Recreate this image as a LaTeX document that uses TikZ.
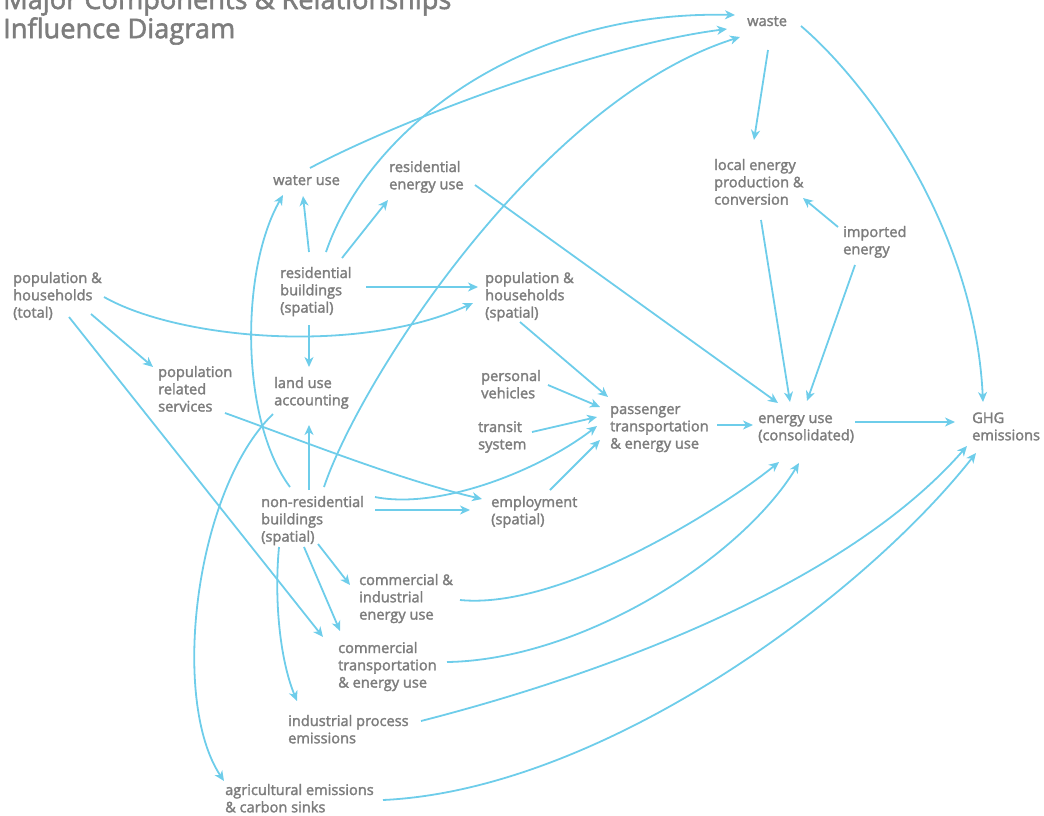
\documentclass[tikz,border=0pt]{standalone}
\usepackage{fontspec}
\setmainfont{Open Sans}[FakeBold=2.0]
\usetikzlibrary{arrows.meta,calc}
\definecolor{lbl}{RGB}{125,125,125}
\definecolor{edge}{RGB}{110,205,234}
\newcommand\mlab[1]{\begin{tabular}[t]{@{}l@{}}#1\end{tabular}}
\tikzset{
  lab/.style={anchor=base west, inner sep=0pt, text=lbl,
    font=\fontsize{14.6}{17.3}\selectfont},
  link/.style={draw=edge, line width=1.8pt,
    -{Stealth[length=10pt,width=9pt,inset=3pt]}},
}
\begin{document}
\begin{tikzpicture}[x=1pt,y=-1pt]
\useasboundingbox (0,0) rectangle (1044,815);
\clip (0,0) rectangle (1044,815);

\node[lab, font=\fontsize{27.2}{28}\selectfont] (title) at (3,9) {\mlab{Major Components \& Relationships\\Influence Diagram}};

\node[lab] (waste) at (747,26) {waste};
\node[lab] (water) at (273,185) {water use};
\node[lab] (resE) at (389,172) {\mlab{residential\\energy use}};
\node[lab] (local) at (714,170) {\mlab{local energy\\production \&\\conversion}};
\node[lab] (imp) at (843,237) {\mlab{imported\\energy}};
\node[lab] (popT) at (13,283) {\mlab{population \&\\households\\(total)}};
\node[lab] (resB) at (280,278) {\mlab{residential\\buildings\\(spatial)}};
\node[lab] (popS) at (485,283) {\mlab{population \&\\households\\(spatial)}};
\node[lab] (prs) at (158,377) {\mlab{population\\related\\services}};
\node[lab] (land) at (274,388) {\mlab{land use\\accounting}};
\node[lab] (pv) at (481,381) {\mlab{personal\\vehicles}};
\node[lab] (transit) at (478,432) {\mlab{transit\\system}};
\node[lab] (pass) at (610,414) {\mlab{passenger\\transportation\\\& energy use}};
\node[lab] (eu) at (758,423) {\mlab{energy use\\(consolidated)}};
\node[lab] (ghg) at (972,423) {\mlab{GHG\\emissions}};
\node[lab] (nonres) at (261,507) {\mlab{non-residential\\buildings\\(spatial)}};
\node[lab] (emp) at (491,507) {\mlab{employment\\(spatial)}};
\node[lab] (ci) at (359,585) {\mlab{commercial \&\\industrial\\energy use}};
\node[lab] (ct) at (338,653) {\mlab{commercial\\transportation\\\& energy use}};
\node[lab] (ip) at (288,726) {\mlab{industrial process\\emissions}};
\node[lab] (ag) at (225,795) {\mlab{agricultural emissions\\\& carbon sinks}};

% connectors
\draw[link] ($(popT.base west)+(91,14)$) .. controls (180,340) and (360,355) .. ($(popS.base west)+(-12,20)$);
\draw[link] ($(popT.base west)+(78,31)$) -- ($(prs.base west)+(-5,-10)$);
\draw[link] ($(popT.base west)+(56,34)$) -- ($(ct.base west)+(-15,-16)$);
\draw[link] ($(resB.base west)+(29,-26)$) -- ($(water.base west)+(30,11)$);
\draw[link] ($(resB.base west)+(62,-20)$) -- ($(resE.base west)+(-1,28)$);
\draw[link] ($(resB.base west)+(46,-26)$) .. controls (368,130) and (520,10) .. ($(waste.base west)+(-12,-11)$);
\draw[link] ($(water.base west)+(37,-17)$) .. controls (400,120) and (600,45) .. ($(waste.base west)+(-20,3)$);
\draw[link] ($(nonres.base west)+(63,-20)$) .. controls (360,380) and (540,100) .. ($(waste.base west)+(-7,11)$);
\draw[link] ($(resE.base west)+(86,13)$) -- ($(eu.base west)+(20,-20)$);
\draw[link] ($(resB.base west)+(86,9)$) -- ($(popS.base west)+(-7,4)$);
\draw[link] ($(resB.base west)+(29,47)$) -- ($(land.base west)+(35,-21)$);
\draw[link] ($(popS.base west)+(35,39)$) -- ($(pass.base west)+(-2,-17)$);
\draw[link] ($(pv.base west)+(67,4)$) -- ($(pass.base west)+(-10,-7)$);
\draw[link] ($(transit.base west)+(54,0)$) -- ($(pass.base west)+(-13,3)$);
\draw[link] ($(nonres.base west)+(114,-10)$) .. controls (440,510) and (540,470) .. ($(pass.base west)+(-13,12)$);
\draw[link] ($(emp.base west)+(59,-17)$) -- ($(pass.base west)+(-10,26)$);
\draw[link] ($(pass.base west)+(107,11)$) -- ($(eu.base west)+(-5,2)$);
\draw[link] ($(eu.base west)+(97,-1)$) -- ($(ghg.base west)+(-17,-1)$);
\draw[link] ($(prs.base west)+(67,36)$) .. controls (300,440) and (400,480) .. ($(emp.base west)+(-9,-8)$);
\draw[link] ($(nonres.base west)+(114,3)$) -- ($(emp.base west)+(-21,3)$);
\draw[link] ($(nonres.base west)+(48,-17)$) -- ($(land.base west)+(35,37)$);
\draw[link] ($(nonres.base west)+(29,-20)$) .. controls (240,420) and (240,270) .. ($(water.base west)+(10,10)$);
\draw[link] ($(land.base west)+(-1,26)$) .. controls (195,490) and (170,700) .. ($(ag.base west)+(-1,-14)$);
\draw[link] ($(nonres.base west)+(57,37)$) -- ($(ci.base west)+(-9,0)$);
\draw[link] ($(nonres.base west)+(43,40)$) -- ($(ct.base west)+(2,-22)$);
\draw[link] ($(nonres.base west)+(18,40)$) .. controls (274,600) and (280,660) .. ($(ip.base west)+(9,-25)$);
\draw[link] ($(ci.base west)+(101,15)$) .. controls (560,610) and (720,510) .. ($(eu.base west)+(21,39)$);
\draw[link] ($(ct.base west)+(109,9)$) .. controls (580,660) and (740,560) .. ($(eu.base west)+(41,40)$);
\draw[link] ($(ip.base west)+(133,-5)$) .. controls (620,670) and (850,580) .. ($(ghg.base west)+(-5,23)$);
\draw[link] ($(ag.base west)+(158,5)$) .. controls (600,790) and (860,600) .. ($(ghg.base west)+(4,30)$);
\draw[link] ($(waste.base west)+(21,24)$) -- ($(local.base west)+(40,-30)$);
\draw[link] ($(waste.base west)+(54,0)$) .. controls (870,85) and (975,230) .. ($(ghg.base west)+(11,-21)$);
\draw[link] ($(imp.base west)+(-5,-10)$) -- ($(local.base west)+(89,28)$);
\draw[link] ($(local.base west)+(47,50)$) -- ($(eu.base west)+(32,-21)$);
\draw[link] ($(imp.base west)+(12,28)$) -- ($(eu.base west)+(49,-22)$);
\end{tikzpicture}
\end{document}
